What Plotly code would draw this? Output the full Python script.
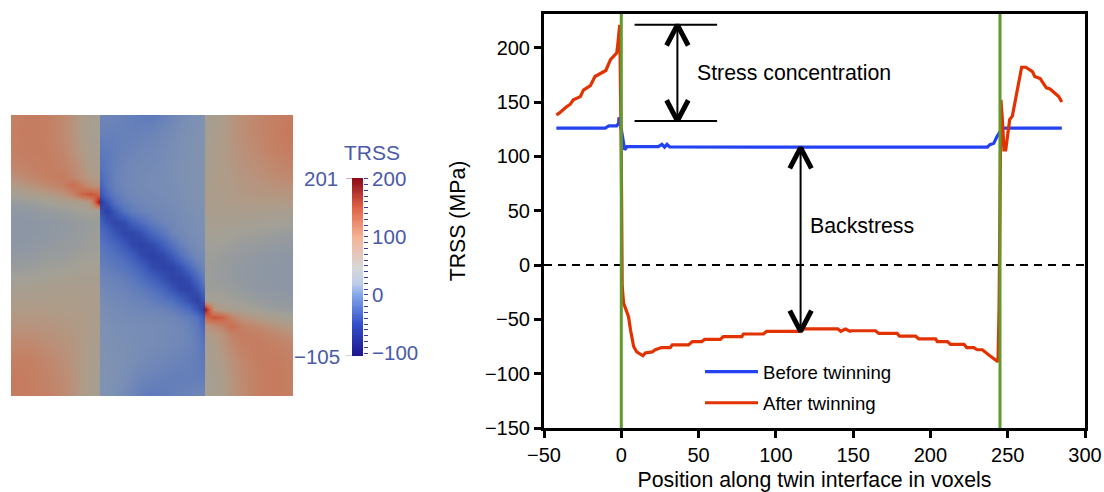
import plotly.graph_objects as go

W, H = 1104, 492
FONT = "Liberation Sans"
INK = "#4a5aa8"

# ---------- data: TRSS line profiles ----------
before_x = [-42, -10.4, -8, -3, -1.7, -1.5, 0, 1, 2.2, 3.7, 24, 26.3, 28, 29.6, 31.3, 120, 219.6, 236.8, 238.5, 241, 243, 244.5, 246.5, 285]
before_y = [126, 126, 128, 128, 130.5, 136, 125, 116.7, 106, 109, 109, 111, 108.5, 111, 108.7, 108.4, 108.4, 108.4, 110.8, 112, 118, 122, 126, 126]
after_x = [-42, -40, -36, -33, -31, -26.5, -24.5, -20, -17, -13, -10, -7, -3, -2.4, -1, 0, 0.6, 1.5, 3, 4.7, 6, 8, 10, 14, 15.5, 20, 22, 26, 31.7, 33, 43.5, 46, 52, 54, 64, 66, 78, 79, 92, 94, 116, 118, 140, 142, 145, 148, 149, 164.5, 166.6, 178.5, 180, 190.4, 192.5, 203.4, 204.5, 211, 213, 221.7, 223.5, 228, 230.3, 233.6, 238, 242.3, 243.7, 244.4, 245, 245.6, 246.5, 247.6, 248.7, 250, 251.3, 253, 255, 257.5, 259, 261.7, 264.5, 266, 267.5, 271, 275, 277.4, 283, 285]
after_y = [138, 140, 145, 148, 152, 155, 161, 165, 173.5, 177, 179, 189, 195, 201, 221, 100, -20, -35, -42, -47.6, -60, -75, -80, -83.5, -81, -80, -78, -76, -76, -73.5, -73.5, -70.5, -70.5, -68.5, -68.5, -66, -66, -63.5, -63.5, -61, -61, -58.7, -58.7, -61, -59, -61, -60.5, -60.5, -63, -63, -65.5, -65.5, -68, -68, -70.5, -70.5, -73, -73, -76, -76, -78, -78, -83, -88, -89, -40, 60, 152, 135, 106, 106, 121, 134, 137, 152, 170, 182, 182, 179.6, 178, 173.5, 171.6, 163, 162, 155, 150]
interface_positions = [0, 245]
x_ticks = [-50, 0, 50, 100, 150, 200, 250, 300]
y_ticks = [-150, -100, -50, 0, 50, 100, 150, 200]
concentration_levels = [221, 132.6]
concentration_x = [36.3]
backstress_levels = [108, -61]
backstress_x = [116]

# ---------- data: TRSS field (MPa) ----------
field_u = [0, 6, 12, 18, 22, 25, 28, 31.2,
           31.4, 34, 37, 40, 43, 46, 50, 54, 57, 60, 63, 66, 68.6,
           68.8, 72, 75, 78, 82, 88, 94, 100]
field_v = [0, 6, 12, 18, 22, 25, 28, 31, 34, 38, 42, 46, 50, 54, 58, 62, 66, 69, 72, 75, 78, 82, 88, 94, 100]
outer_left = [
    [98, 106, 102, 88, 72, 56, 46, 45],
    [102, 106, 102, 88, 72, 56, 46, 45],
    [100, 105, 104, 90, 75, 60, 50, 48],
    [90, 98, 104, 98, 85, 70, 55, 50],
    [75, 88, 100, 104, 92, 75, 62, 58],
    [60, 70, 85, 100, 125, 100, 80, 70],
    [42, 50, 60, 72, 95, 135, 150, 130],
    [30, 32, 38, 45, 50, 52, 70, 201],
    [22, 24, 28, 32, 35, 38, 40, 38],
    [20, 20, 22, 25, 28, 30, 32, 32],
    [18, 20, 22, 25, 28, 30, 32, 34],
    [20, 22, 25, 28, 30, 32, 35, 36],
    [25, 27, 30, 32, 35, 37, 38, 38],
    [30, 33, 36, 38, 40, 42, 43, 42],
    [40, 40, 42, 45, 47, 48, 48, 47],
    [48, 48, 50, 52, 52, 52, 52, 50],
    [55, 55, 55, 56, 56, 55, 54, 52],
    [58, 60, 60, 58, 58, 56, 55, 52],
    [65, 65, 65, 62, 60, 58, 56, 53],
    [72, 72, 70, 66, 62, 60, 56, 53],
    [80, 80, 75, 70, 65, 60, 56, 53],
    [90, 90, 82, 74, 68, 60, 55, 52],
    [102, 102, 92, 80, 70, 60, 52, 50],
    [108, 104, 96, 85, 74, 60, 52, 48],
    [106, 104, 98, 88, 76, 60, 50, 46],
]
twin_band = [
    [-15, -15, -18, -22, -25, -30, -30, -22, -15, -8, -3, 0, 2],
    [-22, -22, -22, -22, -22, -20, -18, -12, -8, -3, 0, 2, 5],
    [-30, -28, -25, -20, -18, -14, -12, -8, -4, -1, 2, 4, 6],
    [-40, -32, -22, -16, -12, -10, -8, -6, -3, 0, 2, 4, 6],
    [-48, -35, -20, -14, -10, -8, -6, -5, -3, 0, 2, 4, 6],
    [-60, -38, -22, -14, -10, -8, -6, -5, -3, -1, 2, 4, 6],
    [-75, -50, -28, -18, -12, -10, -8, -6, -4, -2, 1, 3, 5],
    [-105, -75, -42, -26, -18, -13, -10, -8, -6, -3, 0, 2, 4],
    [-80, -98, -72, -42, -28, -20, -14, -10, -8, -5, -2, 0, 2],
    [-60, -78, -92, -84, -62, -46, -28, -16, -11, -7, -4, -2, 0],
    [-48, -58, -76, -92, -92, -80, -54, -34, -18, -11, -6, -3, -2],
    [-38, -45, -56, -72, -90, -95, -86, -62, -40, -22, -11, -6, -3],
    [-30, -34, -42, -52, -66, -86, -97, -90, -70, -46, -24, -12, -8],
    [-22, -26, -32, -38, -48, -62, -86, -95, -93, -78, -52, -28, -14],
    [-16, -18, -22, -26, -34, -46, -62, -80, -92, -95, -82, -54, -28],
    [-10, -13, -16, -19, -24, -30, -42, -56, -76, -90, -95, -78, -48],
    [-5, -8, -11, -13, -17, -20, -26, -36, -46, -62, -82, -96, -76],
    [-3, -5, -7, -9, -12, -14, -16, -20, -26, -36, -50, -76, -105],
    [-1, -3, -5, -7, -8, -9, -10, -12, -15, -20, -28, -42, -70],
    [1, -1, -3, -4, -5, -6, -7, -9, -11, -14, -20, -34, -55],
    [2, 0, -2, -3, -4, -5, -6, -8, -10, -13, -18, -28, -45],
    [3, 1, -1, -2, -3, -5, -7, -9, -12, -14, -18, -25, -38],
    [5, 3, 1, -1, -4, -8, -12, -14, -18, -20, -22, -26, -32],
    [5, 2, 0, -4, -10, -16, -20, -22, -24, -24, -24, -25, -26],
    [4, 2, -2, -8, -16, -26, -32, -28, -24, -20, -18, -16, -14],
]
outer_right = [
    [46, 48, 56, 68, 80, 92, 102, 108],
    [48, 50, 58, 68, 80, 92, 104, 110],
    [50, 52, 58, 66, 76, 88, 100, 106],
    [50, 54, 58, 64, 72, 80, 90, 96],
    [52, 56, 58, 62, 68, 75, 85, 88],
    [53, 55, 58, 60, 65, 70, 75, 78],
    [53, 55, 56, 58, 62, 66, 68, 70],
    [52, 54, 55, 57, 58, 60, 60, 62],
    [50, 52, 52, 52, 52, 52, 50, 50],
    [47, 48, 48, 47, 45, 43, 42, 40],
    [42, 43, 42, 40, 38, 36, 33, 30],
    [38, 38, 37, 35, 32, 30, 27, 25],
    [36, 35, 32, 30, 28, 25, 22, 20],
    [34, 32, 30, 28, 25, 22, 20, 18],
    [34, 32, 30, 28, 25, 22, 20, 18],
    [36, 35, 34, 32, 28, 24, 22, 20],
    [42, 42, 40, 38, 35, 30, 26, 24],
    [201, 70, 52, 50, 45, 38, 32, 30],
    [130, 150, 135, 95, 72, 58, 46, 42],
    [70, 80, 100, 125, 100, 85, 70, 60],
    [58, 62, 75, 98, 104, 100, 88, 75],
    [50, 55, 70, 85, 100, 106, 100, 90],
    [48, 50, 60, 75, 90, 104, 106, 100],
    [45, 45, 55, 70, 85, 102, 108, 100],
    [45, 45, 55, 70, 85, 102, 108, 98],
]
field_z = [a + b + c for a, b, c in zip(outer_left, twin_band, outer_right)]

TMIN, TMAX = -105, 201
map_stops = [-105, -70, -40, -20, 0, 20, 40, 60, 80, 100, 130, 160, 201]
map_colors = ["#28389f", "#3c5ab9", "#5573be", "#6982b9", "#7d91b4", "#8c96a5", "#a3a096",
              "#af9b87", "#bc8e76", "#c48064", "#cc6a4c", "#c8462d", "#a0190f"]
bar_stops = [-105, -50, 0, 20, 48, 100, 150, 201]
bar_colors = ["#1e148c", "#3250c8", "#82a5eb", "#becdeb", "#d7d7d7", "#f5b496", "#e16446", "#8c0a19"]
bar_values = list(range(TMIN, TMAX + 1, 2))
bar_major = [200, 100, 0, -100]
bar_ends = [201, -105]


def scale(stops, colors):
    return [[(s - TMIN) / (TMAX - TMIN), c] for s, c in zip(stops, colors)]


def dom_x(a, b):
    return [a / W, b / W]


def dom_y(top, bottom):
    return [1 - bottom / H, 1 - top / H]


fig = go.Figure()

fig.add_trace(go.Heatmap(x=field_u, y=field_v, z=field_z, zmin=TMIN, zmax=TMAX, zsmooth="best",
                         colorscale=scale(map_stops, map_colors), showscale=False,
                         xaxis="x2", yaxis="y2", hoverinfo="skip"))
fig.add_trace(go.Heatmap(x=[0, 1], y=bar_values, z=[[v, v] for v in bar_values], zmin=TMIN, zmax=TMAX,
                         zsmooth="best", colorscale=scale(bar_stops, bar_colors), showscale=False,
                         xaxis="x3", yaxis="y3", hoverinfo="skip"))

fig.add_trace(go.Scatter(x=[-50, 300], y=[0, 0], mode="lines", showlegend=False, hoverinfo="skip",
                         line=dict(color="black", width=2, dash="8px,6px")))

fig.add_trace(go.Scatter(x=before_x, y=before_y, mode="lines", name="Before twinning", legendgroup="a",
                         line=dict(color="#2343f2", width=3.2)))
fig.add_trace(go.Scatter(x=after_x, y=after_y, mode="lines", name="After twinning", legendgroup="b",
                         line=dict(color="#e23200", width=3.2)))

for xp in interface_positions:
    fig.add_trace(go.Scatter(x=[xp, xp], y=[-150, 231], mode="lines", showlegend=False, hoverinfo="skip",
                             line=dict(color="#5f9a2c", width=3)))

guide_shapes = []
for lv in concentration_levels:
    guide_shapes.append(dict(type="line", x0=8.6, x1=62, y0=lv, y1=lv, xref="x", yref="y",
                             line=dict(color="black", width=2)))


def double_arrow(x, top, bottom):
    guide_shapes.append(dict(type="line", x0=x, x1=x, y0=top, y1=bottom, xref="x", yref="y",
                             line=dict(color="black", width=2)))
    for tip, sign in ((top, 1), (bottom, -1)):
        fig.add_trace(go.Scatter(x=[x - 7, x, x + 7], y=[tip - sign * 19, tip, tip - sign * 19], mode="lines",
                                 showlegend=False, hoverinfo="skip",
                                 line=dict(color="black", width=5)))


double_arrow(concentration_x[0], concentration_levels[0], concentration_levels[1])
double_arrow(backstress_x[0], backstress_levels[0], backstress_levels[1])

SZ = 20
TITLE_SZ = 21.3
fnt = dict(family=FONT, size=TITLE_SZ, color="black")
ink_font = dict(size=20.5, color=INK, family=FONT)
ann = [
    dict(x=695 / W, y=1 - 73 / H, xref="paper", yref="paper", text="Stress concentration",
         showarrow=False, xanchor="left", yanchor="middle", font=fnt),
    dict(x=808 / W, y=1 - 226 / H, xref="paper", yref="paper", text="Backstress",
         showarrow=False, xanchor="left", yanchor="middle", font=fnt),
]
fig.update_layout(
    width=W, height=H, margin=dict(l=0, r=0, t=0, b=0, autoexpand=False),
    paper_bgcolor="white", plot_bgcolor="white",
    font=dict(family=FONT, size=SZ, color="black"),
    xaxis=dict(domain=dom_x(544, 1085), range=[-50, 300], tickvals=x_ticks, ticks="outside", ticklen=7, tickwidth=2.5,
               tickcolor="black", showline=True, linecolor="black", linewidth=3, mirror=True, showgrid=False,
               zeroline=False, title=dict(text="Position along twin interface in voxels", standoff=9, font=dict(size=TITLE_SZ)),
               tickfont=dict(size=SZ)),
    yaxis=dict(domain=dom_y(14, 428), range=[-150, 231], tickvals=y_ticks, ticks="outside", ticklen=7, tickwidth=2.5,
               tickcolor="black", showline=True, linecolor="black", linewidth=3, mirror=True, showgrid=False,
               zeroline=False, title=dict(text="TRSS (MPa)", standoff=14, font=dict(size=TITLE_SZ)),
               tickfont=dict(size=SZ)),
    xaxis2=dict(domain=dom_x(11, 293), range=[0, 100], visible=False, anchor="y2"),
    yaxis2=dict(domain=dom_y(115, 396), range=[100, 0], visible=False, anchor="x2"),
    xaxis3=dict(domain=dom_x(352, 363), range=[0, 1], visible=False, anchor="y3"),
    yaxis3=dict(domain=dom_y(178, 356), range=[TMIN, TMAX], anchor="x3", side="right", showgrid=False, zeroline=False,
                tickvals=bar_major, ticks="outside", ticklen=4, tickcolor="#3b3f94", tickwidth=1,
                tickfont=ink_font, showline=False,
                minor=dict(dtick=10, tick0=0, ticks="outside", ticklen=4, tickcolor="#3b3f94", tickwidth=1)),
    legend=dict(x=700 / W, y=1 - 353 / H, xanchor="left", yanchor="top", bgcolor="rgba(0,0,0,0)",
                font=dict(size=18.6, family=FONT), itemwidth=53, tracegroupgap=4, traceorder="grouped"),
    annotations=ann + [
        dict(x=372 / W, y=1 - 152 / H, xref="paper", yref="paper", text="TRSS", showarrow=False,
             yanchor="middle", font=dict(size=21, color=INK, family=FONT)),
        dict(x=340 / W, y=bar_ends[0], xref="paper", yref="y3", text=str(bar_ends[0]), showarrow=False,
             xanchor="right", yanchor="middle", font=ink_font),
        dict(x=342 / W, y=bar_ends[1], xref="paper", yref="y3", text="\u2212" + str(abs(bar_ends[1])), showarrow=False,
             xanchor="right", yanchor="middle", font=ink_font),
    ],
    shapes=[
        dict(type="line", x0=346 / W, x1=352 / W, y0=bar_ends[0], y1=bar_ends[0], xref="paper", yref="y3",
             line=dict(color="#c06a60", width=1)),
        dict(type="line", x0=346 / W, x1=352 / W, y0=bar_ends[1], y1=bar_ends[1], xref="paper", yref="y3",
             line=dict(color="#aaaaaa", width=1)),
    ] + guide_shapes,
)
fig.write_html("out.html", config={"displayModeBar": False}, post_script="document.body.style.margin='0';")
